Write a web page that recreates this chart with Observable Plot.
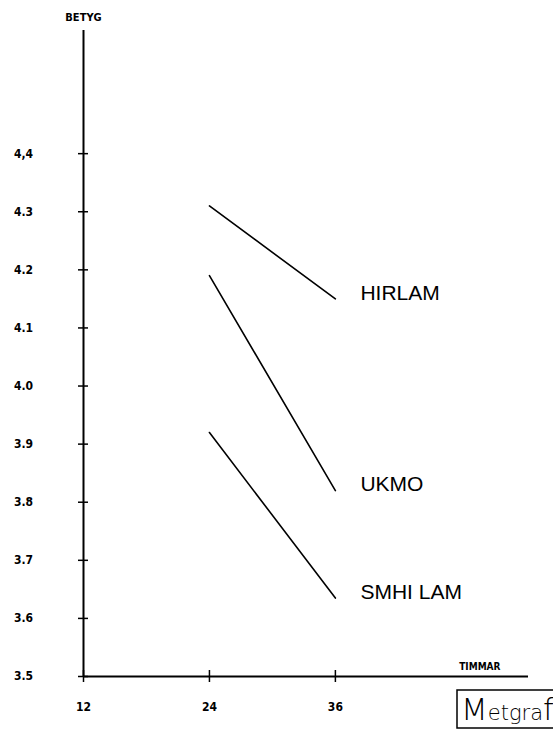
<!DOCTYPE html>
<html>
<head>
<meta charset="utf-8">
<script src="https://cdn.jsdelivr.net/npm/d3@7"></script>
<script src="https://cdn.jsdelivr.net/npm/@observablehq/plot@0.6"></script>
<style>
  html, body { margin: 0; padding: 0; background: #fff; }
  #chart { position: relative; width: 553px; height: 730px; }
</style>
</head>
<body>
<div id="chart"></div>
<script>
// ---- data ----
const hours = [24, 36];
const seriesNames = ["HIRLAM", "UKMO", "SMHI LAM"];
const hirlam = [4.31, 4.15];
const ukmo = [4.19, 3.82];
const smhiLam = [3.92, 3.635];
const yTicks = [3.5, 3.6, 3.7, 3.8, 3.9, 4.0, 4.1, 4.2, 4.3, 4.4];
const yTickLabels = ["3.5", "3.6", "3.7", "3.8", "3.9", "4.0", "4.1", "4.2", "4.3", "4,4"];
const xTicks = [12, 24, 36];
const xTickLabels = ["12", "24", "36"];
const yAxisTitle = "BETYG";
const xAxisTitle = "TIMMAR";
const xMin = 12, xMax = 54.4;
const yMin = 3.5, yMax = 4.612;

// ---- build table ----
const seriesValues = [hirlam, ukmo, smhiLam];
const rows = [];
seriesNames.forEach((name, i) => {
  hours.forEach((h, j) => rows.push({series: name, hour: h, value: seriesValues[i][j]}));
});
const lastPoints = seriesNames.map((name, i) => ({series: name, hour: hours[hours.length - 1], value: seriesValues[i][hours.length - 1]}));

const tickFont = "'DejaVu Sans Condensed', 'Liberation Sans Narrow', 'DejaVu Sans', sans-serif";

const chart = Plot.plot({
  width: 553,
  height: 730,
  marginLeft: 83,
  marginRight: 25,
  marginTop: 30,
  marginBottom: 54,
  style: {background: "#fff", color: "#000"},
  x: {domain: [xMin, xMax], axis: null},
  y: {domain: [yMin, yMax], axis: null},
  marks: [
    // axes
    Plot.ruleX([xMin], {y1: yMin, y2: yMax, stroke: "#000", strokeWidth: 2}),
    Plot.ruleY([yMin], {x1: xMin, x2: xMax, stroke: "#000", strokeWidth: 2}),
    // crossing tick marks
    Plot.ruleY(yTicks, {y: d => d, x1: xMin, x2: xMin, insetLeft: -5, insetRight: -5, stroke: "#000", strokeWidth: 1.5}),
    Plot.ruleX(xTicks, {x: d => d, y1: yMin, y2: yMin, insetTop: -6, insetBottom: -6, stroke: "#000", strokeWidth: 1.5}),
    // tick labels
    Plot.text(yTicks, {x: xMin, y: d => d, text: (d, i) => yTickLabels[i], dx: -60, textAnchor: "middle",
      fontSize: 12, fontWeight: "bold", fontFamily: tickFont, fill: "#000"}),
    Plot.text(xTicks, {x: d => d, y: yMin, text: (d, i) => xTickLabels[i], dy: 31, textAnchor: "middle",
      fontSize: 12, fontWeight: "bold", fontFamily: tickFont, fill: "#000"}),
    // axis titles
    Plot.text([yAxisTitle], {x: xMin, y: yMax, text: d => d, dy: -13, textAnchor: "middle",
      fontSize: 11, fontWeight: "bold", fontFamily: tickFont, fill: "#000"}),
    Plot.text([xAxisTitle], {x: xMax, y: yMin, text: d => d, dx: -28, dy: -10, textAnchor: "end",
      fontSize: 10, fontWeight: "bold", fontFamily: tickFont, fill: "#000"}),
    // series lines
    Plot.line(rows, {x: "hour", y: "value", z: "series", stroke: "#000", strokeWidth: 1.6}),
    // series labels
    Plot.text(lastPoints, {x: "hour", y: "value", text: "series", dx: 25, dy: -6, textAnchor: "start",
      fontSize: 21, fontFamily: "'Liberation Sans', Arial, sans-serif", fill: "#000"})
  ]
});

document.getElementById("chart").appendChild(chart);

// Metgraf logo box (annotation)
const svg = d3.select(chart);
const logo = svg.append("g").attr("text-anchor", "start");
logo.append("rect").attr("x", 457).attr("y", 690).attr("width", 110).attr("height", 38)
  .attr("fill", "none").attr("stroke", "#000").attr("stroke-width", 1.5);
const t = logo.append("text").attr("x", 461).attr("y", 720).attr("text-anchor", "start")
  .attr("font-family", "'DejaVu Sans', sans-serif").attr("font-weight", 300).attr("fill", "#000");
t.append("tspan").attr("font-size", 31).text("M");
t.append("tspan").attr("font-size", 21).text("etgra");
t.append("tspan").attr("font-size", 31).text("f");
</script>
</body>
</html>
